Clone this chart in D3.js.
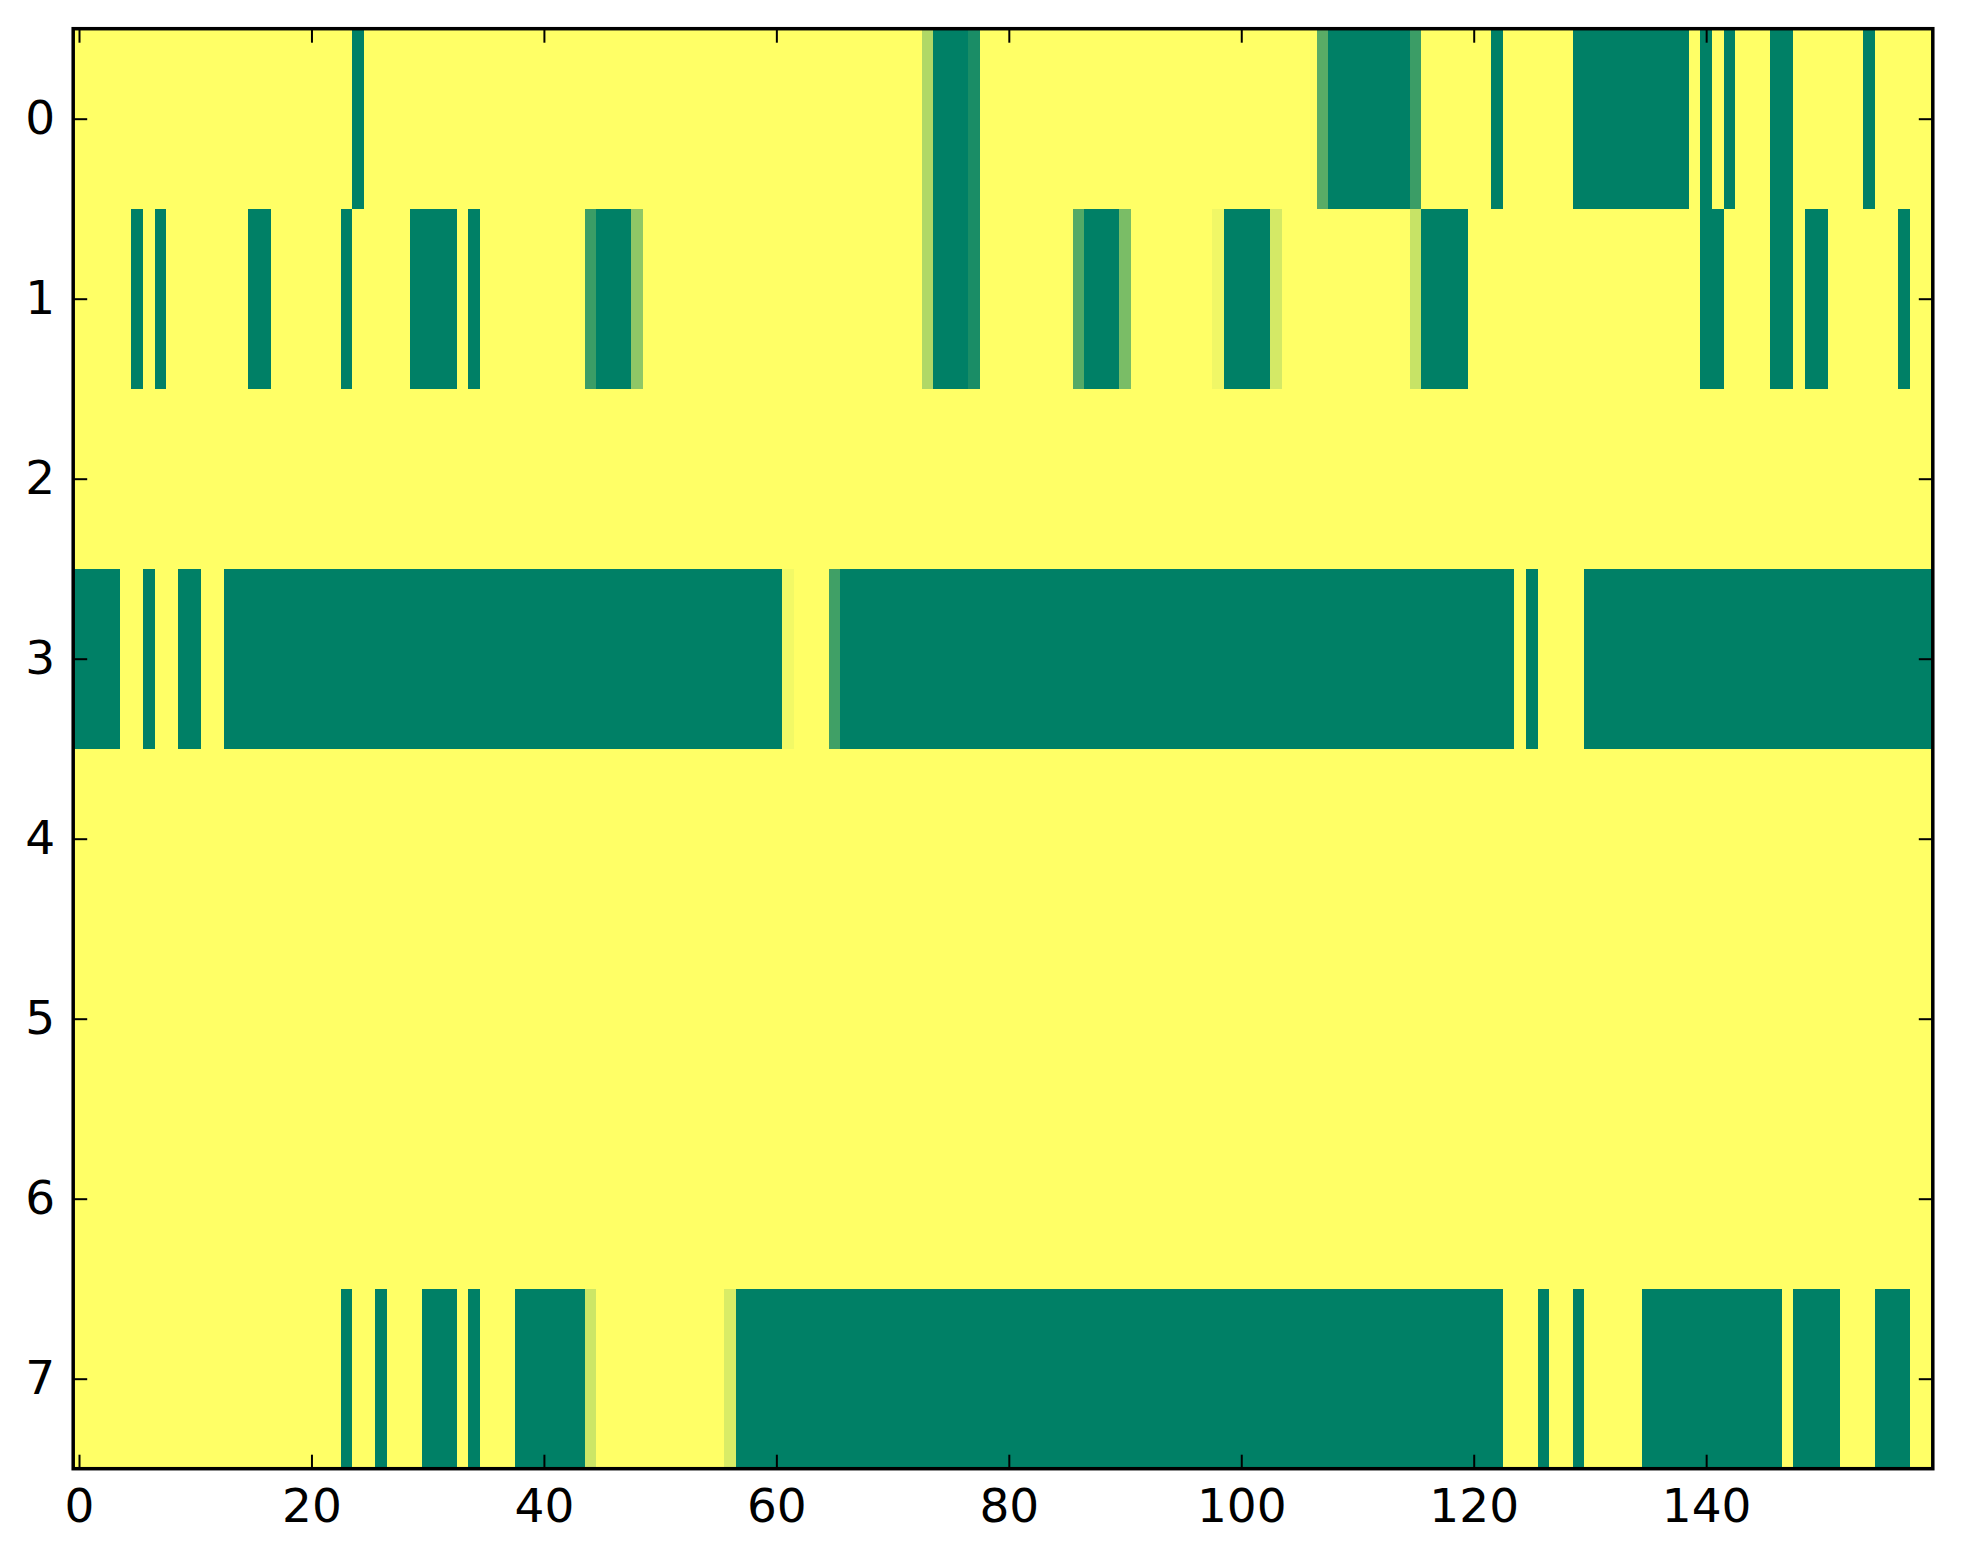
<!DOCTYPE html>
<html>
<head>
  <meta charset="utf-8">
  <script src="https://d3js.org/d3.v7.min.js"></script>
  <style>
    body { margin: 0; background: #fff; }
    text { font-family: "DejaVu Sans", sans-serif; }
  </style>
</head>
<body>
  <svg width="1963" height="1564"></svg>

  <script>
  // row labels and x ticks
  var rowLabels = [0, 1, 2, 3, 4, 5, 6, 7];
  var xTicks = [0, 20, 40, 60, 80, 100, 120, 140];
  var nCols = 160;

  // each row: [first column, last column, value]; anything not listed is 0
  var row0 = [[24,24,1],[73,73,0.31],[74,76,1],[77,77,0.9],[107,107,0.65],[108,114,1],
              [115,115,0.77],[122,122,1],[129,138,1],[140,140,1],[142,142,1],[146,147,1],[154,154,1]];
  var row1 = [[5,5,1],[7,7,1],[15,16,1],[23,23,1],[29,32,1],[34,34,1],[44,44,0.77],[45,47,1],
              [48,48,0.44],[73,73,0.31],[74,76,1],[77,77,0.9],[86,86,0.67],[87,89,1],[90,90,0.52],
              [98,98,0.06],[99,102,1],[103,103,0.17],[115,115,0.22],[116,119,1],[140,141,1],
              [146,147,1],[149,150,1],[157,157,1]];
  var row2 = [];
  var row3 = [[0,3,1],[6,6,1],[9,10,1],[13,60,1],[61,61,0.05],[65,65,0.75],[66,123,1],
              [125,125,1],[130,159,1]];
  var row4 = [];
  var row5 = [];
  var row6 = [];
  var row7 = [[23,23,1],[26,26,1],[30,32,1],[34,34,1],[38,43,1],[44,44,0.2],[56,56,0.15],
              [57,122,1],[126,126,1],[129,129,1],[135,146,1],[148,151,1],[155,157,1]];

  var rows = [row0, row1, row2, row3, row4, row5, row6, row7];

  // one cell per (row, column)
  var cells = [];
  rows.forEach(function(runs, r) {
    for (var c = 0; c < nCols; c++) {
      var v = 0;
      runs.forEach(function(run) { if (c >= run[0] && c <= run[1]) v = run[2]; });
      cells.push({ row: r, col: c, value: v });
    }
  });

  var svg = d3.select("svg");

  var plotLeft = 73.2, plotRight = 1932.8, plotTop = 28.7, plotBottom = 1468.7;

  var xScale = d3.scaleLinear().domain([-0.5, nCols - 0.5]).range([plotLeft, plotRight]),
      yScale = d3.scaleLinear().domain([-0.5, rowLabels.length - 0.5]).range([plotTop, plotBottom]);

  // summer_r colormap
  var color = d3.scaleLinear().domain([0, 1]).range(["#ffff66", "#008066"]);

  svg.append("g")
      .selectAll("rect")
      .data(cells)
      .enter()
      .append("rect")
      .attr("x", function(d) { return xScale(d.col - 0.5); })
      .attr("y", function(d) { return yScale(d.row - 0.5); })
      .attr("width", function(d) { return xScale(d.col + 0.5) - xScale(d.col - 0.5); })
      .attr("height", function(d) { return yScale(d.row + 0.5) - yScale(d.row - 0.5); })
      .attr("shape-rendering", "crispEdges")
      .style("fill", function(d) { return color(d.value); });

  var tickLen = 14;

  function styleAxis(g) {
    g.select(".domain").remove();
    g.selectAll(".tick line").attr("stroke", "#000").attr("stroke-width", 2);
    g.selectAll(".tick text").style("font-size", "47px").attr("fill", "#000");
  }

  svg.append("g")
      .attr("transform", "translate(0," + plotBottom + ")")
      .call(d3.axisBottom(xScale).tickValues(xTicks).tickSize(-tickLen).tickPadding(20))
      .call(styleAxis);

  svg.append("g")
      .attr("transform", "translate(0," + plotTop + ")")
      .call(d3.axisTop(xScale).tickValues(xTicks).tickSize(-tickLen).tickFormat(""))
      .call(styleAxis);

  svg.append("g")
      .attr("transform", "translate(" + plotLeft + ",0)")
      .call(d3.axisLeft(yScale).tickValues(rowLabels).tickSize(-tickLen).tickPadding(18))
      .call(styleAxis);

  svg.append("g")
      .attr("transform", "translate(" + plotRight + ",0)")
      .call(d3.axisRight(yScale).tickValues(rowLabels).tickSize(-tickLen).tickFormat(""))
      .call(styleAxis);

  // frame
  svg.append("rect")
      .attr("x", plotLeft)
      .attr("y", plotTop)
      .attr("width", plotRight - plotLeft)
      .attr("height", plotBottom - plotTop)
      .style("fill", "none")
      .style("stroke", "#000")
      .style("stroke-width", 3.5);
  </script>
</body>
</html>
